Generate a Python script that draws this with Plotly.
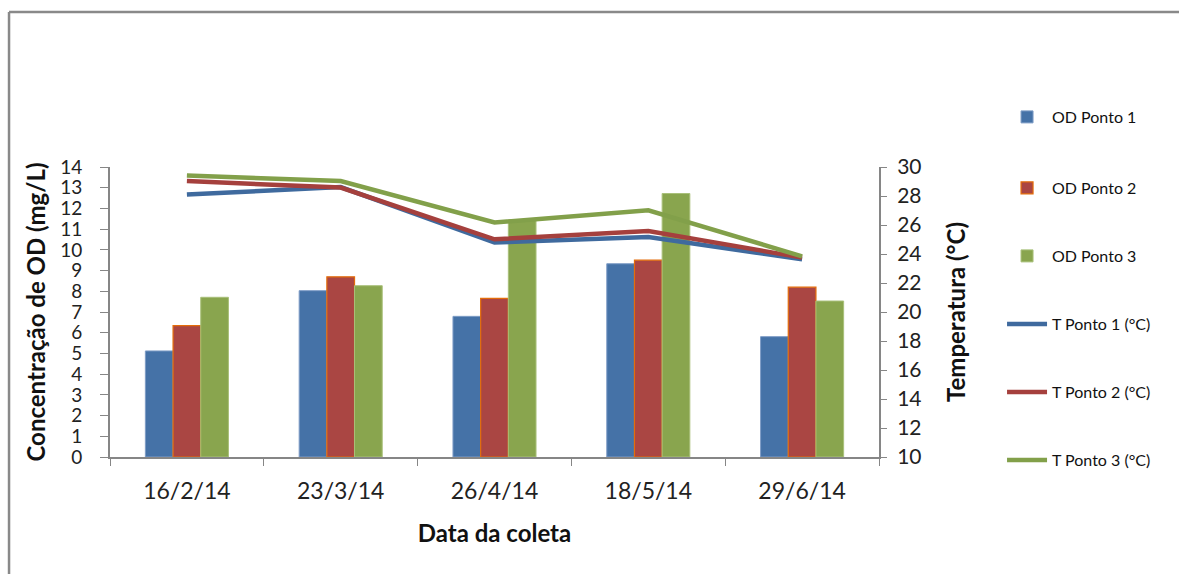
import plotly.graph_objects as go

datas = ["16/2/14", "23/3/14", "26/4/14", "18/5/14", "29/6/14"]
od_p1 = [5.12, 8.03, 6.79, 9.33, 5.81]
od_p2 = [6.34, 8.70, 7.66, 9.50, 8.20]
od_p3 = [7.71, 8.27, 11.45, 12.72, 7.53]
t_p1 = [28.10, 28.62, 24.79, 25.17, 23.63]
t_p2 = [29.03, 28.58, 25.01, 25.59, 23.75]
t_p3 = [29.41, 29.03, 26.17, 27.01, 23.84]

FONT = "Lato"
AXC = "#868686"

fig = go.Figure()
fig.add_trace(go.Bar(x=datas, y=od_p1, name="OD Ponto 1", legend="legend",
                     marker=dict(color="#4572A7", line=dict(color="#7E9CC6", width=1))))
fig.add_trace(go.Bar(x=datas, y=od_p2, name="OD Ponto 2", legend="legend2",
                     marker=dict(color="#AA4643", line=dict(color="#E46C0A", width=1.2))))
fig.add_trace(go.Bar(x=datas, y=od_p3, name="OD Ponto 3", legend="legend3",
                     marker=dict(color="#89A54E", line=dict(color="#A9C07A", width=1))))
fig.add_trace(go.Scatter(x=datas, y=t_p1, name="T Ponto 1 (°C)", legend="legend4", yaxis="y2",
                         mode="lines", line=dict(color="#3F6A9E", width=4.5)))
fig.add_trace(go.Scatter(x=datas, y=t_p2, name="T Ponto 2 (°C)", legend="legend5", yaxis="y2",
                         mode="lines", line=dict(color="#A5403D", width=4.5)))
fig.add_trace(go.Scatter(x=datas, y=t_p3, name="T Ponto 3 (°C)", legend="legend6", yaxis="y2",
                         mode="lines", line=dict(color="#82A04A", width=4.5)))

legend_y = [1.1724, 0.9276, 0.6931, 0.4586, 0.2241, -0.0103]
leg_common = dict(x=1.16, xanchor="left", yanchor="middle",
                  font=dict(size=16, family=FONT, color="#111111"),
                  bgcolor="rgba(0,0,0,0)", itemwidth=40)

fig.update_layout(
    width=1179, height=574,
    margin=dict(l=110, r=300, t=167, b=117),
    paper_bgcolor="white", plot_bgcolor="white",
    font=dict(family=FONT, color="#222222"),
    barmode="group", bargap=0.46, bargroupgap=0,
    showlegend=True,
    legend=dict(y=legend_y[0], **leg_common),
    legend2=dict(y=legend_y[1], **leg_common),
    legend3=dict(y=legend_y[2], **leg_common),
    legend4=dict(y=legend_y[3], **leg_common),
    legend5=dict(y=legend_y[4], **leg_common),
    legend6=dict(y=legend_y[5], **leg_common),
    xaxis=dict(type="category", range=[-0.5, 4.5], showgrid=False,
               showline=True, linecolor=AXC, linewidth=2,
               ticks="outside", tickcolor=AXC, ticklen=7, tickwidth=1,
               tickson="boundaries", ticklabelstandoff=12,
               tickfont=dict(size=23, family=FONT, color="#222222"),
               title=dict(text="<b>Data da coleta</b>", font=dict(size=24, family=FONT, color="#111111"),
                          standoff=23)),
    yaxis=dict(range=[0, 14], dtick=1, showgrid=False, zeroline=False,
               showline=True, linecolor=AXC, linewidth=2,
               ticks="outside", tickcolor=AXC, ticklen=8, tickwidth=1,
               ticklabelstandoff=14,
               tickfont=dict(size=19, family=FONT, color="#222222"),
               title=dict(text="<b>Concentração de OD (mg/L)</b>",
                          font=dict(size=24, family=FONT, color="#111111"), standoff=8)),
    yaxis2=dict(range=[10, 30], dtick=2, overlaying="y", side="right",
                showgrid=False, zeroline=False,
                showline=True, linecolor=AXC, linewidth=2,
                ticks="outside", tickcolor=AXC, ticklen=6, tickwidth=1,
                ticklabelstandoff=6,
                tickfont=dict(size=21, family=FONT, color="#222222"),
                title=dict(text="<b>Temperatura (°C)</b>",
                           font=dict(size=24, family=FONT, color="#111111"), standoff=28)),
    shapes=[
        dict(type="line", xref="paper", yref="paper", x0=-0.1313, x1=2, y0=1.5345, y1=1.5345,
             line=dict(color="#898989", width=2.5)),
        dict(type="line", xref="paper", yref="paper", x0=-0.1313, x1=-0.1313, y0=-1, y1=1.5345,
             line=dict(color="#898989", width=2.5)),
    ],
)

fig.write_html("out.html")
